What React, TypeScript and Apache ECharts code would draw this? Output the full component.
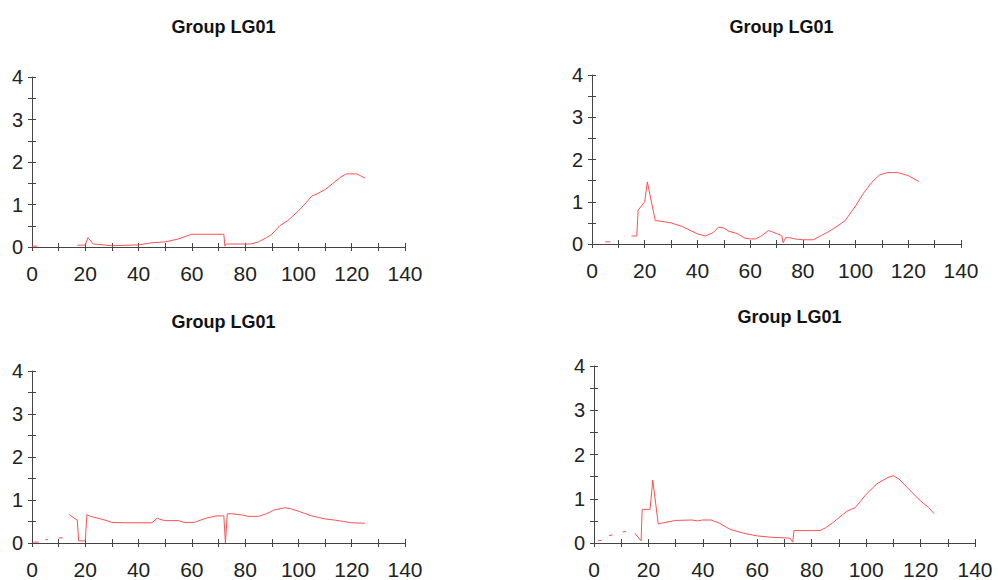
import React, { useEffect, useRef } from "react";
import * as echarts from "echarts";

const titles: string[] = ["Group LG01", "Group LG01", "Group LG01", "Group LG01"];

const xTicks = { min: 0, max: 140, interval: 10 };
const yTicks = { min: 0, max: 4, interval: 0.5 };

// [x, y] points; a null y breaks the line
const seriesTopLeft: (number | null)[][] = [
  [0, 0.02], [2, 0.02], [3, null],
  [17, 0.04], [20, 0.05], [21, 0.22], [23, 0.07], [25, 0.06], [30, 0.03], [35, 0.04],
  [40, 0.05], [45, 0.1], [50, 0.12], [55, 0.19], [59, 0.28], [60, 0.3], [66, 0.3],
  [72, 0.3], [72.4, 0.02], [73, 0.07], [78, 0.07], [82, 0.07], [85, 0.12], [88, 0.22],
  [90, 0.3], [93, 0.5], [96, 0.62], [100, 0.85], [103, 1.05], [105, 1.2], [107, 1.25],
  [110, 1.35], [113, 1.5], [116, 1.65], [118, 1.72], [122, 1.72], [125, 1.62],
];

const seriesTopRight: (number | null)[][] = [
  [5, 0.05], [7, 0.05], [8, null],
  [15, 0.19], [17, 0.19], [17.5, 0.8], [20, 1.0], [21, 1.47], [24, 0.55], [25, 0.55],
  [30, 0.5], [34, 0.42], [37, 0.33], [40, 0.24], [43, 0.19], [46, 0.27], [48, 0.4],
  [50, 0.38], [52, 0.3], [55, 0.25], [58, 0.14], [60, 0.12], [62, 0.12], [64, 0.18],
  [67, 0.32], [70, 0.25], [72, 0.2], [72.5, 0.03], [73.5, 0.15], [75, 0.15], [77, 0.12],
  [80, 0.1], [84, 0.1], [87, 0.2], [90, 0.3], [93, 0.42], [96, 0.55], [100, 0.9],
  [103, 1.2], [106, 1.45], [109, 1.63], [112, 1.69], [116, 1.69], [120, 1.62], [124, 1.48],
];

const seriesBottomLeft: (number | null)[][] = [
  [0.5, 0.02], [2.5, 0.02], [3, null],
  [5, 0.08], [6, 0.08], [7, null],
  [10, 0.12], [11.5, 0.12], [12, null],
  [14, 0.66], [17, 0.53], [17.5, 0.05], [20, 0.05], [20.6, 0.66], [22, 0.62], [27, 0.54],
  [30, 0.48], [35, 0.47], [45, 0.47], [47, 0.58], [48, 0.55], [50, 0.52], [55, 0.52],
  [57, 0.48], [61, 0.48], [65, 0.57], [69, 0.63], [72, 0.63], [72.6, 0.0], [73.3, 0.68],
  [75, 0.68], [79, 0.65], [81, 0.62], [85, 0.62], [88, 0.68], [91, 0.77], [95, 0.82],
  [97, 0.8], [100, 0.74], [105, 0.63], [110, 0.56], [114, 0.53], [117, 0.5], [120, 0.47],
  [125, 0.46],
];

const seriesBottomRight: (number | null)[][] = [
  [1.5, 0.05], [2.8, 0.06], [3, null],
  [5.5, 0.17], [6.8, 0.18], [7, null],
  [10.5, 0.25], [11.8, 0.26], [12, null],
  [15, 0.22], [17.3, 0.05], [17.7, 0.76], [20.6, 0.76], [21.6, 1.42], [23.6, 0.43],
  [25, 0.45], [30, 0.51], [36, 0.52], [38, 0.5], [40, 0.52], [43, 0.52], [46, 0.45],
  [50, 0.31], [55, 0.22], [60, 0.16], [65, 0.13], [72, 0.11], [73, 0.02], [73.5, 0.28],
  [80, 0.28], [83, 0.28], [85, 0.34], [88, 0.47], [90, 0.57], [93, 0.72], [96, 0.8],
  [100, 1.1], [104, 1.34], [108, 1.48], [110, 1.52], [112, 1.45], [115, 1.26],
  [120, 0.95], [123, 0.8], [125, 0.66],
];

const allSeries = [seriesTopLeft, seriesTopRight, seriesBottomLeft, seriesBottomRight];

const grids = [
  { left: 32, top: 77, width: 373, height: 170 },
  { left: 592, top: 75, width: 369, height: 169 },
  { left: 32, top: 371, width: 373, height: 174 },
  { left: 594, top: 366, width: 381, height: 177 },
];
const titleY = [13, 13, 308, 303];

export default function App() {
  const ref = useRef<HTMLDivElement>(null);
  useEffect(() => {
    if (!ref.current) return;
    const chart = echarts.init(ref.current, null, { renderer: "svg" });
    const axisColor = "#444";
    const font = "Liberation Sans, Arial, sans-serif";
    const xAxes: any[] = [];
    const yAxes: any[] = [];
    grids.forEach((_, i) => {
      xAxes.push({
        type: "value", gridIndex: i, position: "bottom", offset: 0, ...xTicks,
        axisLine: { show: true, onZero: false, lineStyle: { color: axisColor, width: 1 } },
        axisTick: { show: true, length: 4, lineStyle: { color: axisColor } },
        axisLabel: {
          show: true, margin: 16, fontSize: 21, color: "#222", fontFamily: font,
          formatter: (v: number) => (v % 20 === 0 ? String(v) : ""),
        },
        splitLine: { show: false },
      });
      xAxes.push({
        type: "value", gridIndex: i, position: "bottom", offset: 0, ...xTicks,
        axisLine: { show: false, onZero: false },
        axisTick: { show: true, inside: true, length: 4, lineStyle: { color: axisColor } },
        axisLabel: { show: false },
        splitLine: { show: false },
      });
      yAxes.push({
        type: "value", gridIndex: i, position: "left", offset: 0, ...yTicks,
        axisLine: { show: true, onZero: false, lineStyle: { color: axisColor, width: 1 } },
        axisTick: { show: true, length: 4, lineStyle: { color: axisColor } },
        axisLabel: {
          show: true, margin: 9, fontSize: 20, color: "#222", fontFamily: font,
          formatter: (v: number) => (Number.isInteger(v) ? String(v) : ""),
        },
        splitLine: { show: false },
      });
      yAxes.push({
        type: "value", gridIndex: i, position: "left", offset: 0, ...yTicks,
        axisLine: { show: false, onZero: false },
        axisTick: { show: true, inside: true, length: 4, lineStyle: { color: axisColor } },
        axisLabel: { show: false },
        splitLine: { show: false },
      });
    });
    chart.setOption({
      animation: false,
      backgroundColor: "#fff",
      title: titles.map((t, i) => ({
        text: t,
        left: grids[i].left + grids[i].width / 2,
        top: titleY[i],
        textAlign: "center",
        textStyle: { fontSize: 18, fontWeight: "bold", color: "#111", fontFamily: font },
      })),
      grid: grids.map((g) => ({ ...g, containLabel: false })),
      xAxis: xAxes,
      yAxis: yAxes,
      series: allSeries.map((d, i) => ({
        type: "line",
        xAxisIndex: i * 2,
        yAxisIndex: i * 2,
        data: d,
        showSymbol: false,
        symbol: "none",
        connectNulls: false,
        lineStyle: { color: "#ff5050", width: 1 },
      })),
    });
    return () => chart.dispose();
  }, []);
  return (
    <div
      ref={ref}
      style={{ position: "fixed", left: 0, top: 0, width: 998, height: 580 }}
    />
  );
}
